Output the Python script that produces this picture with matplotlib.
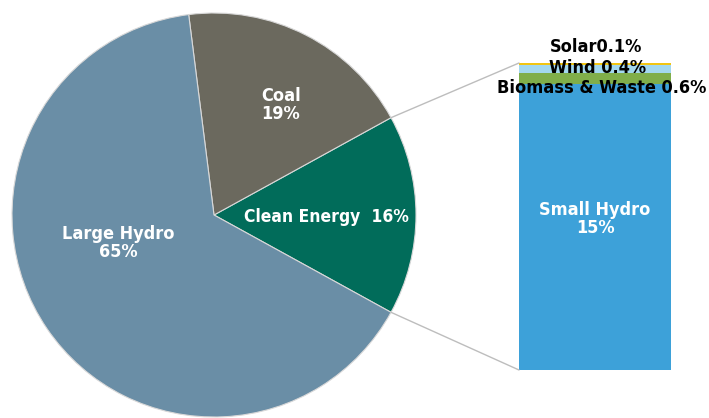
import matplotlib
matplotlib.use('Agg')
import matplotlib.pyplot as plt
from matplotlib import font_manager
from matplotlib.patches import ConnectionPatch
import numpy as np

# pie: shares of total
pie_labels = ['Clean Energy', 'Coal', 'Large Hydro']
pie_values = [16, 19, 65]
pie_colors = ['#016c5a', '#6b695e', '#6a8ea6']

# bar: breakdown of clean energy
bar_labels = ['Small Hydro', 'Biomass & Waste', 'Wind', 'Solar']
bar_values = [15, 0.6, 0.4, 0.1]
bar_colors = ['#3da1d9', '#80ae4a', '#a3d8ef', '#f2c511']

plt.rcParams['font.family'] = ['DejaVu Sans']
fp = font_manager.FontProperties(family='DejaVu Sans', weight='bold', stretch='condensed')

fig = plt.figure(figsize=(7.09, 4.18), dpi=100)
ax = fig.add_axes([0, 0, 1, 1])

start = -pie_values[0] / 100 * 180
wedges, _ = ax.pie(pie_values, colors=pie_colors, startangle=start,
                   center=(214, 203), radius=202, frame=True,
                   wedgeprops=dict(edgecolor='#d8d8d8', linewidth=0.8))
ax.set_xlim(0, 709)
ax.set_ylim(0, 418)
ax.set_aspect('equal')
ax.axis('off')

tk = dict(color='white', fontproperties=fp, fontsize=13, ha='center', va='center', linespacing=1.0)
ax.text(118, 175, 'Large Hydro\n65%', **tk)
ax.text(281, 313, 'Coal\n19%', **tk)
ax.text(326, 201, 'Clean Energy  16%', color='white', fontproperties=fp, fontsize=12.5,
        ha='center', va='center')

bx = fig.add_axes([519 / 709, 48 / 418, 152 / 709, 307 / 418])
bottom = 0
for v, c in zip(bar_values, bar_colors):
    bx.bar(0, v, width=1, bottom=bottom, color=c, edgecolor='none')
    bottom += v
bx.set_xlim(-0.5, 0.5)
bx.set_ylim(0, sum(bar_values))
bx.axis('off')

bx.text(0, 7.9, 'Small Hydro\n15%', **tk)

lk = dict(color='black', fontproperties=fp, fontsize=13, ha='center', va='center',
          transform=ax.transData)
fig.text(596, 371, 'Solar0.1%', **lk)
fig.text(598, 350, 'Wind 0.4%', **lk)
fig.text(602, 330, 'Biomass & Waste 0.6%', **lk)

# connecting lines from clean energy wedge to bar
w = wedges[0]
for ang, yb in [(w.theta2, sum(bar_values)), (w.theta1, 0)]:
    p = (214 + 202 * np.cos(np.radians(ang)), 203 + 202 * np.sin(np.radians(ang)))
    con = ConnectionPatch(xyA=p, coordsA=ax.transData, xyB=(-0.5, yb), coordsB=bx.transData,
                          color='#bdbdbd', linewidth=1)
    fig.add_artist(con)

fig.savefig('out.png', dpi=100)
